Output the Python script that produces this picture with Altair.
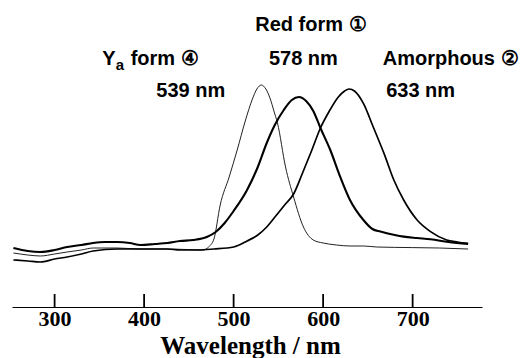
import altair as alt
import pandas as pd

# ---- spectra (wavelength nm, absorbance a.u.) ----
red_nm = [254, 270, 284, 300, 314, 330, 343, 356, 370, 384, 396, 412, 426, 440, 455, 470, 480, 490, 500,
          515, 527, 537, 546, 556, 565, 573, 581, 589, 597, 608, 619, 630, 645, 655, 664, 680, 690, 705,
          720, 740, 762]
red_abs = [0.295, 0.28, 0.275, 0.285, 0.30, 0.31, 0.32, 0.325, 0.325, 0.32, 0.31, 0.315, 0.32, 0.33, 0.335,
           0.35, 0.375, 0.42, 0.48, 0.585, 0.70, 0.82, 0.91, 0.985, 1.035, 1.05, 1.03, 0.98, 0.895, 0.785,
           0.652, 0.535, 0.435, 0.39, 0.377, 0.36, 0.352, 0.345, 0.339, 0.325, 0.315]

ya_nm = [254, 270, 284, 300, 314, 330, 343, 370, 396, 426, 450, 466, 472, 478, 485, 495, 504, 513, 521,
         526, 531, 536, 541, 545, 549, 558, 567, 578, 589, 600, 615, 630, 645, 660, 700, 730, 762]
ya_abs = [0.27, 0.26, 0.255, 0.265, 0.275, 0.285, 0.295, 0.295, 0.29, 0.29, 0.287, 0.285, 0.30, 0.34,
          0.51, 0.65, 0.785, 0.93, 1.04, 1.09, 1.11, 1.09, 1.04, 0.98, 0.92, 0.70, 0.55, 0.40, 0.335,
          0.32, 0.31, 0.305, 0.305, 0.30, 0.297, 0.295, 0.29]

am_nm = [254, 270, 284, 300, 314, 330, 343, 370, 396, 426, 440, 460, 478, 500, 515, 527, 537, 548, 557,
         567, 577, 587, 597, 607, 617, 624, 629, 635, 645, 656, 668, 679, 690, 705, 720, 738, 750, 762]
am_abs = [0.235, 0.23, 0.225, 0.24, 0.25, 0.265, 0.28, 0.29, 0.29, 0.29, 0.285, 0.285, 0.29, 0.30, 0.33,
          0.36, 0.40, 0.46, 0.51, 0.565, 0.67, 0.78, 0.895, 0.98, 1.05, 1.08, 1.09, 1.08, 1.018, 0.90,
          0.768, 0.635, 0.535, 0.435, 0.377, 0.335, 0.325, 0.318]

tick_nm = [300, 400, 500, 600, 700]
tick_len = 0.065  # upward tick length, absorbance units

label_text = ["Red form \u2460", "578 nm", "Amorphous \u2461", "633 nm", "539 nm", "Y", "form \u2463"]
label_nm = [524.2, 539.4, 666.6, 670.4, 413.6, 353.3, 385.0]
label_abs = [1.38, 1.21, 1.21, 1.05, 1.05, 1.21, 1.21]
sub_text = ["a"]
sub_nm = [368.3]
sub_abs = [1.185]

XDOM = [252.4, 777.5]
YDOM = [0, 1.495]

red = pd.DataFrame({"nm": red_nm, "a": red_abs})
ya = pd.DataFrame({"nm": ya_nm, "a": ya_abs})
am = pd.DataFrame({"nm": am_nm, "a": am_abs})
ticks = pd.DataFrame({
    "nm": [v for v in tick_nm for _ in (0, 1)],
    "a": [h for _ in tick_nm for h in (0.0, tick_len)],
    "k": [str(v) for v in tick_nm for _ in (0, 1)],
})
labels = pd.DataFrame({"t": label_text, "nm": label_nm, "a": label_abs})
subs = pd.DataFrame({"t": sub_text, "nm": sub_nm, "a": sub_abs})

xs = alt.Scale(domain=XDOM, nice=False, zero=False)
ys = alt.Scale(domain=YDOM, nice=False, zero=False)

SERIF = "Liberation Serif, Times New Roman, Times, serif"
SANS = "Liberation Sans, Arial, Helvetica, sans-serif"

xaxis = alt.Axis(values=tick_nm, ticks=False, grid=False, domainColor="black", domainWidth=1,
                 labelFont=SERIF, labelFontSize=22, labelFontWeight="bold",
                 labelColor="black", labelPadding=1,
                 title="Wavelength / nm", titleFont=SERIF, titleFontSize=25,
                 titleFontWeight="bold", titleColor="black", titleX=238, titleY=46,
                 titleBaseline="alphabetic", titleAlign="center")

X = alt.X("nm:Q", scale=xs, axis=xaxis)
Y = alt.Y("a:Q", scale=ys, axis=None)


def line(df, w, color):
    return alt.Chart(df).mark_line(color=color, strokeWidth=w, interpolate="monotone").encode(x=X, y=Y)


tick_layer = alt.Chart(ticks).mark_line(color="black", strokeWidth=1.8, strokeCap="butt").encode(
    x=X, y=Y, detail="k:N"
)

text_layer = alt.Chart(labels).mark_text(
    align="left", baseline="alphabetic", font=SANS, fontSize=20,
    fontWeight="bold", color="black"
).encode(x=X, y=Y, text="t:N")

sub_layer = alt.Chart(subs).mark_text(
    align="left", baseline="alphabetic", font=SANS, fontSize=15,
    fontWeight="bold", color="black"
).encode(x=X, y=Y, text="t:N")

chart = alt.layer(
    line(ya, 1.0, "#222222"),
    line(am, 1.7, "black"),
    line(red, 2.1, "black"),
    text_layer,
    sub_layer,
    tick_layer,
).properties(
    width=470, height=299,
    background="white",
    autosize=alt.AutoSizeParams(type="none"),
    padding={"left": 4, "top": 0, "right": 42, "bottom": 51},
).configure_view(stroke=None)

chart.save("out.html", embed_options={"renderer": "svg", "actions": False})
